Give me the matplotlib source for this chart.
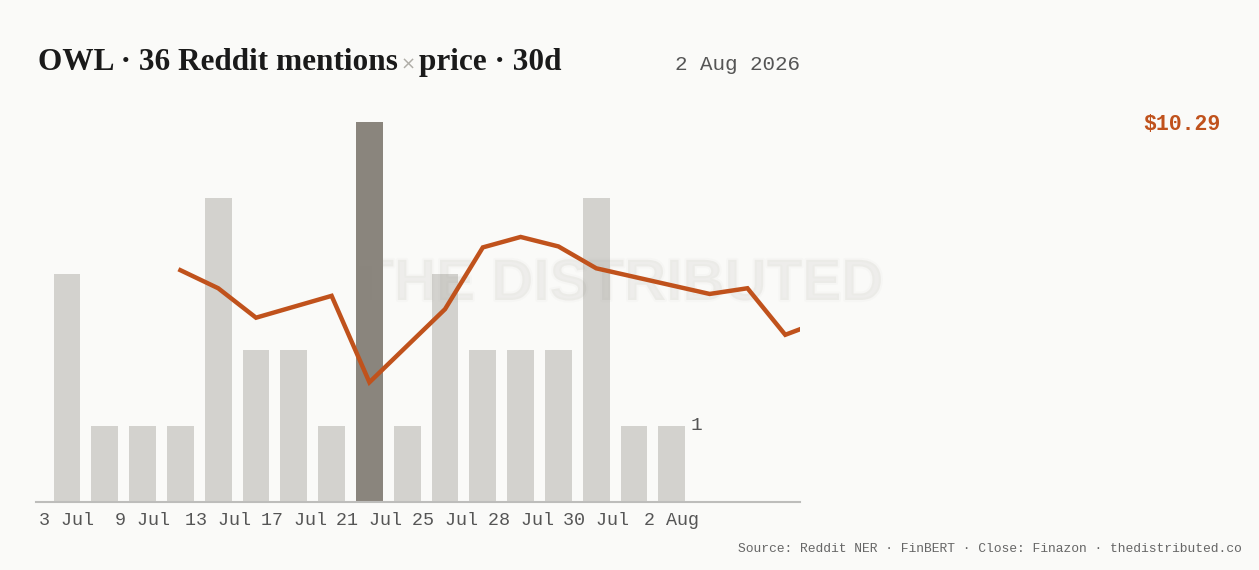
import matplotlib
matplotlib.use("Agg")
import matplotlib.pyplot as plt
import matplotlib.patheffects as pe

# daily Reddit mentions (bars) and closing price (line)
mentions = [3, 1, 1, 1, 4, 2, 2, 1, 5, 1, 3, 2, 2, 2, 4, 1, 1]
tick_labels = ['3 Jul', '9 Jul', '13 Jul', '17 Jul', '21 Jul', '25 Jul', '28 Jul', '30 Jul', '2 Aug']
price_pos = [3, 4, 5, 7, 8, 10, 11, 12, 13, 14, 17, 18, 19, 20]
price_vals = [10.82, 10.63, 10.32, 10.55, 9.64, 10.41, 11.06, 11.17, 11.07, 10.84,
              10.57, 10.63, 10.14, 10.29]
last_price = '$10.29'

bg = '#fafaf8'
bar_col = '#d3d2ce'
peak_col = '#8a857d'
line_col = '#c0521c'
mono = 'Liberation Mono'

W, H = 1259, 570
fig = plt.figure(figsize=(W / 100, H / 100), dpi=100, facecolor=bg)
ax = fig.add_axes([36 / W, 68 / H, 764 / W, 380 / H])
ax.set_facecolor(bg)

peak = mentions.index(max(mentions))
colors = [peak_col if i == peak else bar_col for i in range(len(mentions))]
ax.bar(range(len(mentions)), mentions, width=0.71, color=colors, zorder=2)
ax.set_xlim(-0.82, 19.39)
ax.set_ylim(0, 5)

for s in ['top', 'right', 'left']:
    ax.spines[s].set_visible(False)
ax.spines['bottom'].set_color('#bdbdbb')
ax.spines['bottom'].set_linewidth(1.5)
ax.set_yticks([])
ax.set_xticks(range(0, len(mentions), 2))
ax.set_xticklabels(tick_labels, fontfamily=mono, fontsize=13.2, color='#555555')
ax.tick_params(axis='x', length=0, pad=7)

# value label for the last bar
ax.text(len(mentions) - 1 + 0.5, mentions[-1], str(mentions[-1]), ha='left', va='center',
        fontfamily=mono, fontsize=14, color='#555555')

# watermark, soft edge from a faint stroke
ax.text(621 / W, 0.5, 'THE DISTRIBUTED', transform=fig.transFigure,
        ha='center', va='center', fontfamily='Liberation Sans', fontweight='bold',
        fontsize=42, color='#9a9890', alpha=0.085, zorder=2.5, clip_on=False,
        path_effects=[pe.withStroke(linewidth=3, foreground='#9a9890', alpha=0.03)])

# price line on its own scale
ax2 = ax.twinx()
ax2.plot(price_pos, price_vals, color=line_col, lw=3.2, solid_joinstyle='miter')
ax2.set_ylim(8.38, 12.38)
ax2.set_yticks([])
for s in ax2.spines.values():
    s.set_visible(False)

fig.text(1221 / W, 1 - 124 / H, last_price, ha='right', va='center', fontfamily=mono,
         fontsize=15.5, fontweight='bold', color=line_col)

# title in three pieces so the x can be lighter
fig.canvas.draw()
r = fig.canvas.get_renderer()
ty = 1 - 70 / H
t1 = fig.text(38 / W, ty, 'OWL · 36 Reddit mentions', ha='left', va='baseline',
              fontfamily='Liberation Serif', fontsize=22.5, fontweight='bold', color='#1a1a1a')
x1 = t1.get_window_extent(r).x1
t2 = fig.text((x1 + 3) / W, ty, '×', ha='left', va='baseline',
              fontfamily='DejaVu Sans', fontsize=13, color='#b0aea8')
x2 = t2.get_window_extent(r).x1
fig.text((x2 + 3) / W, ty, 'price · 30d', ha='left', va='baseline',
         fontfamily='Liberation Serif', fontsize=22.5, fontweight='bold', color='#1a1a1a')

fig.text(800 / W, ty, '2 Aug 2026', ha='right', va='baseline', fontfamily=mono,
         fontsize=15, color='#555555')

fig.text(1242 / W, 1 - 549 / H,
         'Source: Reddit NER · FinBERT · Close: Finazon · thedistributed.co',
         ha='right', va='center', fontfamily=mono, fontsize=9.4, color='#666666')

fig.savefig('out.png', dpi=100, facecolor=bg)
